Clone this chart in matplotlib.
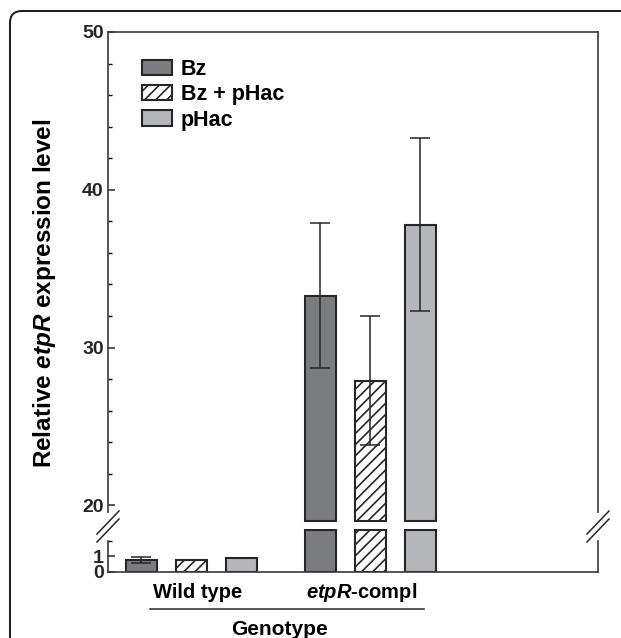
import matplotlib
matplotlib.use("Agg")
import matplotlib.pyplot as plt
from matplotlib.lines import Line2D
from matplotlib.patches import Patch, FancyBboxPatch
from matplotlib.transforms import IdentityTransform

plt.rcParams["font.family"] = ["Liberation Sans", "DejaVu Sans"]
plt.rcParams["font.weight"] = "bold"
plt.rcParams["mathtext.fontset"] = "custom"
plt.rcParams["mathtext.it"] = "Liberation Sans:bold:italic"
plt.rcParams["mathtext.rm"] = "Liberation Sans:bold"
plt.rcParams["hatch.linewidth"] = 1.2
plt.rcParams["hatch.color"] = "#262626"

# values
genotypes = ["Wild type", "$\\mathit{etpR}$-compl"]
treatments = ["Bz", "Bz + pHac", "pHac"]
bz_mean = [0.78, 33.3]
bz_err = [0.2, 4.6]
bzphac_mean = [0.78, 27.9]
bzphac_err = [0.0, 4.1]
phac_mean = [0.92, 37.8]
phac_err = [0.0, 5.5]

upper_ticks = [20, 30, 40, 50]
lower_ticks = [0, 1]

W, H = 621, 638
EDGE = "#262626"
styles = [
    dict(facecolor="#7b7c80", hatch=None),
    dict(facecolor="white", hatch="///"),
    dict(facecolor="#b6b7bb", hatch=None),
]
means = [bz_mean, bzphac_mean, phac_mean]
errs = [bz_err, bzphac_err, phac_err]

group_x = [1.7, 5.35]
offset = 1.02
bar_w = 0.63
low_top, high_bottom = 2.7, 19.0

fig = plt.figure(figsize=(W / 100, H / 100), dpi=100)
ax_top = fig.add_axes([108 / W, 1 - 522 / H, 490 / W, 490 / H])
ax_bot = fig.add_axes([108 / W, 1 - 572 / H, 490 / W, 43 / H])

for i, (vals, ev, st) in enumerate(zip(means, errs, styles)):
    xs = [g + (i - 1) * offset for g in group_x]
    tall = [(x, v) for x, v in zip(xs, vals) if v > high_bottom]
    if tall:
        ax_top.bar([x for x, _ in tall], [v - high_bottom for _, v in tall],
                   bottom=high_bottom, width=bar_w, edgecolor=EDGE, linewidth=1.5, **st)
    ax_bot.bar(xs, [min(v, low_top) for v in vals], width=bar_w,
               edgecolor=EDGE, linewidth=1.5, **st)
    for ax in (ax_top, ax_bot):
        for x, v, e in zip(xs, vals, ev):
            if e > 0:
                ax.errorbar(x, v, yerr=e, color=EDGE, elinewidth=1.1, capsize=7.5,
                            capthick=1.1, fmt="none")

ax_top.set_ylim(18.95, 50)
ax_bot.set_ylim(0, 2.76)
for ax in (ax_top, ax_bot):
    ax.set_xlim(0, 10)
    ax.set_xticks([])
    ax.tick_params(axis="y", direction="in", length=5, width=1.1, labelsize=14,
                   pad=3, colors="#262626")
    ax.tick_params(axis="y", which="minor", direction="in", length=3, width=1.0)
    for s in ax.spines.values():
        s.set_linewidth(1.2)
        s.set_color("#3a3a3a")

ax_top.set_yticks(upper_ticks)
ax_top.set_yticks(range(22, 50, 2), minor=True)
ax_bot.set_yticks(lower_ticks)
ax_bot.set_yticks([2], minor=True)
for lab in ax_top.get_yticklabels() + ax_bot.get_yticklabels():
    lab.set_fontweight("bold")

ax_top.spines["bottom"].set_visible(False)
ax_bot.spines["top"].set_visible(False)
ax_top.spines["left"].set_bounds(19.6, 50)
ax_top.spines["right"].set_bounds(19.6, 50)
ax_bot.spines["left"].set_bounds(0, 2.0)
ax_bot.spines["right"].set_bounds(0, 2.0)

# break marks
for px in (108, 598):
    for dy in (0, 8):
        fig.add_artist(Line2D([px - 11, px + 11], [H - (534 + dy), H - (511 + dy)],
                              transform=IdentityTransform(), color="#262626", lw=1.1))

handles = [Patch(edgecolor=EDGE, linewidth=1.5, label=t, **st) for t, st in zip(treatments, styles)]
ax_top.legend(handles=handles, loc="upper left", bbox_to_anchor=(0.07, 0.945),
              frameon=False, fontsize=15.5, handlelength=1.4, handleheight=0.7,
              handletextpad=0.4, labelspacing=0.2, borderaxespad=0, borderpad=0)

fig.text(45 / W, 1 - 293 / H, "Relative $\\mathit{etpR}$ expression level", rotation=90,
         ha="center", va="center", fontsize=17.5, fontweight="bold")
for gx, name in zip((198, 362), genotypes):
    fig.text(gx / W, 1 - 593 / H, name, ha="center", va="center", fontsize=14.5,
             fontweight="bold")
fig.add_artist(Line2D([150 / W, 424 / W], [1 - 609 / H, 1 - 609 / H],
                      transform=fig.transFigure, color="#262626", lw=1.1))
fig.text(279 / W, 1 - 620 / H, "Genotype", ha="center", va="top", fontsize=15,
         fontweight="bold")

fig.add_artist(FancyBboxPatch((10, -40), 700, H - 11 + 40, boxstyle="round,pad=0,rounding_size=12",
                              transform=IdentityTransform(), fill=False, ec="#1a1a1a", lw=1.4))

fig.savefig("out.png", dpi=100)
